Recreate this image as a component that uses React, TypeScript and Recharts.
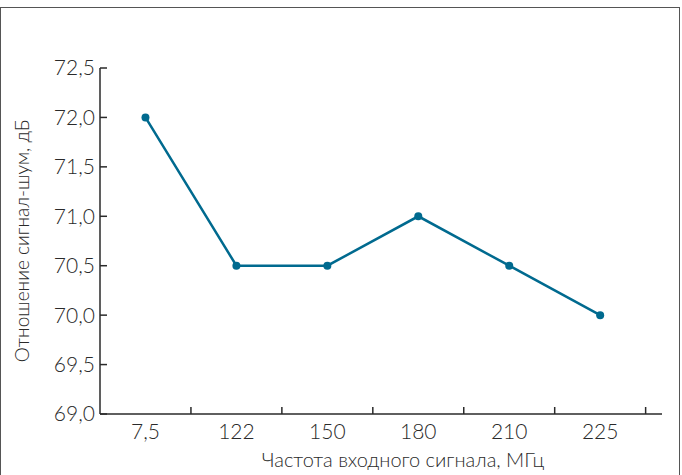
import React from 'react';
import { LineChart, Line, XAxis, YAxis, Label } from 'recharts';

// Частота входного сигнала, МГц
const categories = ['7,5', '122', '150', '180', '210', '225'];
// Отношение сигнал-шум, дБ
const snr = [72.0, 70.5, 70.5, 71.0, 70.5, 70.0];
const yTicks = [69, 69.5, 70, 70.5, 71, 71.5, 72, 72.5];

const centerTicks = categories.map((_, i) => i);
const borderTicks = categories.map((_, i) => i + 0.5);

const data = categories.map((c, i) => ({ i, name: c, snr: snr[i] }));

const LINE = '#006a8f';
const INK = '#2a2a2a';
const FONT = 'Lato, "Open Sans", sans-serif';

const fmtY = (v: number) => v.toFixed(1).replace('.', ',');
const blank = () => '';

export default function App() {
  return (
    <div style={{ position: 'absolute', left: 0, top: 0, width: 682, height: 475, overflow: 'hidden', background: '#fff' }}>
      <div
        style={{
          position: 'absolute', left: 0, top: 7, width: 680, height: 500,
          border: '1.5px solid #555', borderBottom: 'none', boxSizing: 'border-box'
        }}
      />
      <LineChart
        width={682}
        height={475}
        data={data}
        margin={{ top: 68, right: 20, bottom: 0, left: 0 }}
        style={{ position: 'absolute', left: 0, top: 0, fontFamily: FONT }}
      >
        {/* tick marks between categories, pointing into the plot */}
        <XAxis
          xAxisId="marks"
          type="number"
          dataKey="i"
          domain={[-0.5, 5.68]}
          allowDataOverflow
          ticks={borderTicks}
          tickFormatter={blank}
          mirror
          height={0.01}
          tickSize={7}
          axisLine={{ stroke: INK, strokeWidth: 1.5 }}
          tickLine={{ stroke: INK, strokeWidth: 1.5 }}
        />
        <XAxis
          xAxisId="lab"
          type="number"
          dataKey="i"
          domain={[-0.5, 5.68]}
          allowDataOverflow
          ticks={centerTicks}
          tickFormatter={(v: number) => categories[v]}
          axisLine={false}
          tickLine={false}
          height={61}
          tickMargin={4}
          tick={{ fill: INK, fontSize: 21, fontWeight: 300 }}
        >
          <Label
            value="Частота входного сигнала, МГц"
            position="insideBottom"
            offset={8}
            dx={22}
            style={{ fill: INK, fontSize: 20, fontWeight: 300, fontFamily: FONT }}
          />
        </XAxis>
        <YAxis
          yAxisId="marks"
          type="number"
          domain={[69, 72.5]}
          allowDataOverflow
          ticks={yTicks}
          tickFormatter={blank}
          mirror
          width={0.01}
          tickSize={7}
          axisLine={{ stroke: INK, strokeWidth: 1.5 }}
          tickLine={{ stroke: INK, strokeWidth: 1.5 }}
        />
        <YAxis
          yAxisId="lab"
          type="number"
          domain={[69, 72.5]}
          allowDataOverflow
          ticks={yTicks}
          tickFormatter={fmtY}
          axisLine={false}
          tickLine={false}
          width={100}
          tickSize={4}
          tickMargin={1}
          tick={{ fill: INK, fontSize: 21, fontWeight: 300 }}
        >
          <Label
            value="Отношение сигнал-шум, дБ"
            angle={-90}
            position="insideLeft"
            offset={22}
            style={{ fill: INK, fontSize: 19, fontWeight: 300, fontFamily: FONT, textAnchor: 'middle' }}
          />
        </YAxis>
        <Line
          xAxisId="lab"
          yAxisId="lab"
          dataKey="snr"
          type="linear"
          stroke={LINE}
          strokeWidth={2.5}
          dot={{ r: 4, fill: LINE, stroke: LINE, strokeWidth: 0 }}
          isAnimationActive={false}
        />
      </LineChart>
    </div>
  );
}
